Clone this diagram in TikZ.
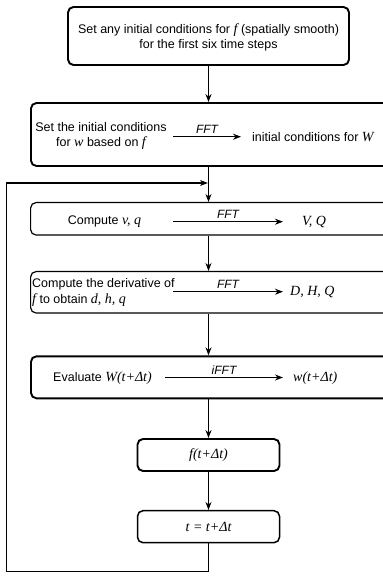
\documentclass[tikz,border=0pt]{standalone}
\usepackage{fontspec}
\setmainfont{Liberation Sans}
\newfontfamily\serifit[ItalicFont={Liberation Serif Italic}]{Liberation Serif}
\newcommand\mv[1]{{\serifit\itshape\fontsize{14}{15}\selectfont #1}}
\usetikzlibrary{arrows.meta}
\begin{document}
\begin{tikzpicture}[x=1pt,y=1pt,
  box/.style={draw,rounded corners=5.5pt,line width=1.2pt,inner sep=0pt},
  thickbox/.style={box,line width=1.9pt},
  widebox/.style={minimum width=370pt},
  lbl/.style={inner sep=0pt,font=\fontsize{12.5}{15}\selectfont,align=center},
  fft/.style={above=2.5pt,inner sep=0pt,font=\itshape\fontsize{12}{13}\selectfont},
  conn/.style={line width=1.2pt,-{Stealth[length=8pt,width=6pt]}},
  every node/.style={font=\fontsize{12.5}{15}\selectfont}]
\useasboundingbox (0,0) rectangle (383,-576);
\clip (0,0) rectangle (383,-576);
% boxes
\node[thickbox,minimum width=281pt,minimum height=58pt] (b1) at (208.5,-36) {};
\node[thickbox,widebox,minimum height=63pt,anchor=west] (b2) at (30,-134.5) {};
\node[box,widebox,minimum height=32.5pt,anchor=west] (b3) at (30,-218.8) {};
\node[box,widebox,minimum height=41.5pt,anchor=west] (b4) at (30,-292.3) {};
\node[thickbox,widebox,minimum height=42pt,anchor=west] (b5) at (30,-377.3) {};
\node[thickbox,minimum width=142pt,minimum height=32pt] (b6) at (208.5,-455) {};
\node[box,line width=1.5pt,minimum width=142pt,minimum height=32pt] (b7) at (208.5,-526.7) {};
% texts
\node[lbl] (t1) at (208.5,-37) {Set any initial conditions for \mv{f} (spatially smooth)\\for the first six time steps};
\node[lbl] (t2l) at (101,-136) {Set the initial conditions\\for \mv{w} based on \mv{f}};
\node[lbl,anchor=west] (t2r) at (252,-137) {initial conditions for \mv{W}};
\node[lbl] (t3l) at (104.5,-222) {Compute \mv{v, q}};
\node[lbl,anchor=west] (t3r) at (302,-222) {\mv{V, Q}};
\node[lbl,align=left,anchor=west,font=\fontsize{12.5}{16}\selectfont] (t4l) at (32,-292.5) {Compute the derivative of\\\mv{f} to obtain \mv{d, h, q}};
\node[lbl,anchor=west] (t4r) at (290,-292) {\mv{D, H, Q}};
\node[lbl] (t5l) at (102.5,-378) {Evaluate \mv{W(t+Δt)}};
\node[lbl,anchor=west] (t5r) at (293,-378) {\mv{w(t+Δt)}};
\node[lbl] (t6) at (208.5,-455) {\mv{f(t+Δt)}};
\node[lbl] (t7) at (208.5,-526.7) {\mv{t = t+Δt}};
% inner arrows
\coordinate (a2s) at (173,-136.7); \coordinate (a2e) at (241,-136.7);
\coordinate (a3s) at (173,-221.7); \coordinate (a3e) at (283,-221.7);
\coordinate (a4s) at (173,-291.7); \coordinate (a4e) at (283,-291.7);
\coordinate (a5s) at (165,-377.5); \coordinate (a5e) at (283,-377.5);
\draw[conn] (a2s) -- node[fft] (f2) {FFT} (a2e);
\draw[conn] (a3s) -- node[fft] (f3) {FFT} (a3e);
\draw[conn] (a4s) -- node[fft] (f4) {FFT} (a4e);
\draw[conn] (a5s) -- node[fft] (f5) {iFFT} (a5e);
% flow arrows
\draw[conn] (b1.south) -- (b1.south |- b2.north);
\draw[conn] (b1.south |- b2.south) -- (b1.south |- b3.north);
\draw[conn] (b1.south |- b3.south) -- (b1.south |- b4.north);
\draw[conn] (b1.south |- b4.south) -- (b1.south |- b5.north);
\draw[conn] (b1.south |- b5.south) -- (b6.north);
\draw[conn] (b6.south) -- (b7.north);
% loop
\coordinate (lb) at (6.5,-571.7);
\coordinate (lt) at (6.5,-183);
\coordinate (li) at (207.9,-183);
\draw[conn] (b7.south) |- (lb) -- (lt) -- (li);
\end{tikzpicture}
\end{document}
